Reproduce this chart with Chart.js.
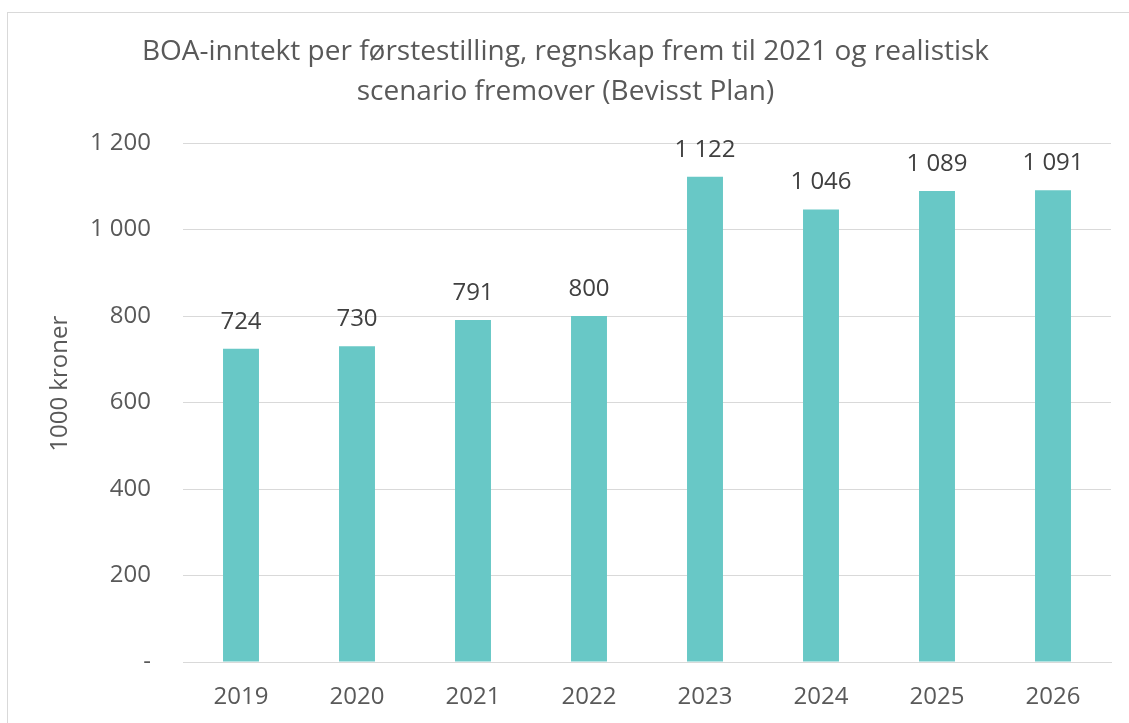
<!DOCTYPE html>
<html>
<head>
<meta charset="utf-8">
<script src="https://cdn.jsdelivr.net/npm/chart.js@4"></script>
<style>
  body { margin: 0; background: #fff; }
  #frame { position: absolute; left: 7px; top: 12px; width: 1140px; height: 730px; border: 1px solid #d9d9d9; box-sizing: border-box; }
  #wrap { position: absolute; left: 0; top: 0; width: 1129px; height: 723px; }
</style>
</head>
<body>
<div id="frame"></div>
<div id="wrap"><canvas id="myChart" width="1129" height="723"></canvas></div>
<script>
const years = ['2019', '2020', '2021', '2022', '2023', '2024', '2025', '2026'];
const income = [724, 730, 791, 800, 1122, 1046, 1089, 1091];
const yTicks = [0, 200, 400, 600, 800, 1000, 1200];

const textColor = '#595959';
const fmt = v => v === 0 ? '-' : String(v).replace(/\B(?=(\d{3})+(?!\d))/g, ' ');

// values over the bars
const barLabels = {
  id: 'barLabels',
  afterDatasetsDraw(chart) {
    const c = chart.ctx;
    const meta = chart.getDatasetMeta(0);
    c.save();
    c.font = '24px "Open Sans"';
    c.fillStyle = '#404040';
    c.textAlign = 'center';
    c.textBaseline = 'middle';
    meta.data.forEach((bar, i) => {
      c.fillText(fmt(income[i]), bar.x, bar.y - 27);
    });
    c.restore();
  }
};

const ctx = document.getElementById('myChart').getContext('2d');
const chart = new Chart(ctx, {
  type: 'bar',
  data: {
    labels: years,
    datasets: [{
      data: income,
      backgroundColor: '#68C8C6',
      barPercentage: 0.31,
      categoryPercentage: 1
    }]
  },
  options: {
    responsive: false,
    animation: false,
    layout: { padding: { left: 20, right: 18, top: 32, bottom: 0 } },
    plugins: {
      legend: { display: false },
      tooltip: { enabled: false },
      title: {
        display: true,
        text: ['BOA-inntekt per førstestilling, regnskap frem til 2021 og realistisk', 'scenario fremover (Bevisst Plan)'],
        color: textColor,
        font: { family: 'Open Sans', size: 28, weight: 'normal', lineHeight: '40px' },
        padding: { top: 0, bottom: 31 }
      }
    },
    scales: {
      x: {
        afterFit: s => { s.height = 61; },
        grid: { display: false, drawTicks: false },
        border: { color: '#d9d9d9', width: 1 },
        ticks: { color: textColor, font: { family: 'Open Sans', size: 24 }, padding: 21 }
      },
      y: {
        min: 0,
        max: 1200,
        afterBuildTicks: s => { s.ticks = yTicks.map(v => ({ value: v })); },
        afterFit: s => { s.width = 163; },
        grid: { color: '#d9d9d9', drawTicks: false },
        border: { display: false },
        ticks: { color: textColor, font: { family: 'Open Sans', size: 24 }, padding: 32, callback: v => fmt(v) },
        title: {
          display: true,
          text: '\u00a0\u00a0\u00a0\u00a0\u00a0\u00a01000 kroner',
          color: textColor,
          font: { family: 'Open Sans', size: 24 },
          padding: { top: 26, bottom: 0 }
        }
      }
    }
  },
  plugins: [barLabels]
});
</script>
</body>
</html>
